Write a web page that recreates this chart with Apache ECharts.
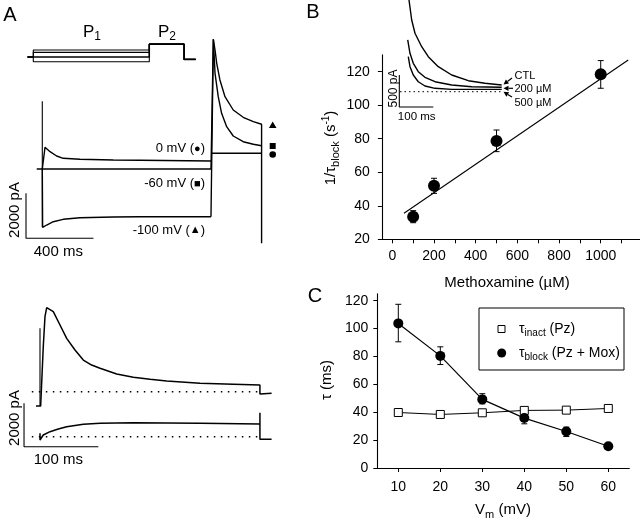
<!DOCTYPE html>
<html><head><meta charset="utf-8">
<script src="https://cdn.jsdelivr.net/npm/echarts@6/dist/echarts.min.js"></script>
<style>html,body{margin:0;padding:0;background:#fff}#c{width:640px;height:522px}</style>
</head><body><div id="c"></div>
<script>
// ---------- Panel A: voltage protocol (ms, mV) ----------
const protoTime = [-50, 0, 0, 1000, 1000, 1300, 1300, 1400];
const protoStep0 = [-60, -60, 0, 0, 50, 50, -80, -80];
const protoStep20 = [-60, -60, -20, -20, 50, 50, -80, -80];
const protoStep60 = [-60, -60, -60, -60, 50, 50, -80, -80];
const protoStep100 = [-60, -60, -100, -100, 50, 50, -80, -80];

// ---------- Panel A top: currents (ms, pA) ----------
const p1Trace0mV = [[0,0],[16,964],[46,769],[85,578],[124,476],[223,431],[421,400],[579,387],[1000,356]];
const p1TraceM60 = [[-33,0],[1000,0]];
const p1TraceM100 = [[0,0],[2,-2591],[26,-2489],[65,-2342],[124,-2236],[223,-2164],[421,-2133],[579,-2120],[1000,-2120]];
const onsetTransient = [[0,3009],[0,-2591]];
const p2AfterM100 = [[1000,-2120],[1014,5764],[1024,5289],[1034,4698],[1053,3956],[1083,3213],[1132,2622],[1191,2298],[1251,2102],[1300,1987],[1300,-3302]];
const p2AfterM60 = [[1000,0],[1014,5764],[1024,4253],[1043,3213],[1063,2476],[1093,1880],[1132,1467],[1191,1213],[1251,1098],[1300,1036]];
const p2After0 = [[1000,698],[1300,698]];
const scaleBarTop = [[-96.6,-1080],[-96.6,-3080],[303.4,-3080]];

// ---------- Panel A bottom: currents (ms, pA) ----------
const fastTrace = [[-5.4,-660],[0.9,-660],[4.4,2077],[6.7,3461],[9,3876],[17.9,3692],[26.9,3078],[35.9,2464],[47.1,1924],[58.3,1463],[69.5,1232],[80.8,1080],[103.2,817],[125.6,664],[148.1,572],[170.5,494],[215.3,388],[260.2,341],[296,309],[296,-106],[311.7,-74]];
const fastTransient = [[0,-660],[0,2926]];
const slowTrace = [[0,157],[0,-152],[0,-74],[4.4,78],[13.5,231],[24.6,355],[35.9,461],[58.3,572],[80.8,618],[125.6,646],[215.3,618],[296,586],[296,1108],[296,-120],[311.7,-120]];
const zeroLine = [[-11,0],[296,0]];
const scaleBarBottom = [[-21.5,1539],[-21.5,-461],[78.5,-461]];

// ---------- Panel B ----------
const mox = [100, 200, 500, 1000];
const invTau = [33.5, 52, 78.6, 118.4];
const invTauLow = [29.9, 47.4, 72.3, 110.1];
const invTauHigh = [37.1, 56.4, 85.2, 126.6];
const fitX = [56, 1132];
const fitY = [35.5, 127];
const bXLabels = [0, 200, 400, 600, 800, 1000];
const bXTicks = [0, 100, 200, 300, 400, 500, 600, 700, 800, 900, 1000, 1100];
const bYLabels = [20, 40, 60, 80, 100, 120];
// inset (ms, pA)
const insetCTL = [[5.9,1433],[13.8,1120],[23.5,913],[43.2,703],[62.6,547],[92,391],[131.5,261],[180.3,172],[229.4,131],[278.5,105]];
const inset200 = [[2.1,808],[8.8,600],[18.5,444],[33.2,313],[52.9,225],[82.4,156],[131.5,105],[190.3,78],[278.5,69]];
const inset500 = [[3.8,547],[8.8,391],[18.5,261],[33.2,156],[52.9,89],[82.4,53],[131.5,37],[278.5,37]];
const insetZero = [[-20.6,0],[278.5,0]];
const insetScaleBar = [[-22.6,261],[-22.6,-239],[77.4,-239]];

// ---------- Panel C ----------
const vm = [10, 20, 30, 40, 50, 60];
const tauInact = [39.8, 38.4, 39.6, 41.3, 41.5, 42.7];
const tauBlock = [103.7, 80.4, 49.2, 35.8, 26.2, 15.6];
const tauBlockLow = [90.5, 74.2, 46, 31.7, 22.6, 14.2];
const tauBlockHigh = [117.4, 86.9, 53.3, 38.9, 29.3, 17];
const cXLabels = [10, 20, 30, 40, 50, 60];
const cYLabels = [0, 20, 40, 60, 80, 100, 120];

const FONT = '"Liberation Sans", Arial, sans-serif';
const BLACK = '#000';

function zip(xs, ys) { return xs.map((x, i) => [x, ys[i]]); }
function zip3(xs, a, b) { return xs.map((x, i) => [x, a[i], b[i]]); }

function lineSeries(data, xi, yi, opts) {
  return Object.assign({
    type: 'line', data: data, xAxisIndex: xi, yAxisIndex: yi,
    symbol: 'none', showSymbol: false, clip: false, animation: false, silent: true,
    lineStyle: { color: BLACK, width: 1.4 }
  }, opts || {});
}

function errBars(cap) {
  return function (params, api) {
    const x = api.value(0), lo = api.value(1), hi = api.value(2);
    const a = api.coord([x, lo]), b = api.coord([x, hi]);
    const st = { stroke: BLACK, lineWidth: 1 };
    return { type: 'group', children: [
      { type: 'line', shape: { x1: a[0], y1: a[1], x2: b[0], y2: b[1] }, style: st },
      { type: 'line', shape: { x1: a[0] - cap, y1: a[1], x2: a[0] + cap, y2: a[1] }, style: st },
      { type: 'line', shape: { x1: b[0] - cap, y1: b[1], x2: b[0] + cap, y2: b[1] }, style: st }
    ]};
  };
}

function hiddenAxis(gi, min, max) {
  return { type: 'value', gridIndex: gi, min: min, max: max, show: false, splitLine: { show: false } };
}

const grids = [
  { left: 27.5, top: 43, width: 174, height: 19.9 },          // 0 protocol
  { left: 25.43, top: 34, width: 256.4, height: 213.75 },     // 1 A top
  { left: 17.71, top: 294.2, width: 260.05, height: 119.2 },  // 2 A bottom upper
  { left: 17.71, top: 393.36, width: 260.05, height: 65.0 },  // 3 A bottom lower
  { left: 381.9, top: 54.9, width: 260.5, height: 184.4 },    // 4 B
  { left: 396.8, top: -1.1, width: 112.2, height: 112 },      // 5 B inset
  { left: 377.3, top: 293.7, width: 252, height: 174.3 }      // 6 C
].map(g => Object.assign({ outerBoundsMode: 'none', containLabel: false, show: false }, g));

const plain = v => String(v);
const axisCommon = {
  axisLine: { show: true, onZero: false, lineStyle: { color: BLACK, width: 1.1 } },
  axisTick: { show: true, inside: false, length: 4, lineStyle: { color: BLACK, width: 1 } },
  splitLine: { show: false },
  axisLabel: { color: BLACK, fontSize: 14, fontFamily: FONT, formatter: plain }
};

const xAxes = [
  hiddenAxis(0, -50, 1450),
  hiddenAxis(1, -100, 1420),
  hiddenAxis(2, -30, 320),
  hiddenAxis(3, -30, 320),
  Object.assign({}, axisCommon, { type: 'value', gridIndex: 4, min: -50, max: 1200,
    axisTick: Object.assign({}, axisCommon.axisTick, { customValues: bXTicks }),
    axisLabel: Object.assign({}, axisCommon.axisLabel, { customValues: bXLabels, margin: 10 }) }),
  hiddenAxis(5, -30, 300),
  Object.assign({}, axisCommon, { type: 'value', gridIndex: 6, min: 5, max: 65,
    axisTick: Object.assign({}, axisCommon.axisTick, { customValues: cXLabels }),
    axisLabel: Object.assign({}, axisCommon.axisLabel, { customValues: cXLabels, margin: 12 }) })
];
const yAxes = [
  hiddenAxis(0, -110, 60),
  hiddenAxis(1, -3500, 6000),
  hiddenAxis(2, -1000, 4500),
  hiddenAxis(3, -1000, 2000),
  Object.assign({}, axisCommon, { type: 'value', gridIndex: 4, min: 20, max: 130,
    axisTick: Object.assign({}, axisCommon.axisTick, { customValues: bYLabels }),
    axisLabel: Object.assign({}, axisCommon.axisLabel, { customValues: bYLabels, margin: 12 }) }),
  hiddenAxis(5, -300, 1450),
  Object.assign({}, axisCommon, { type: 'value', gridIndex: 6, min: 0, max: 125,
    axisTick: Object.assign({}, axisCommon.axisTick, { customValues: cYLabels }),
    axisLabel: Object.assign({}, axisCommon.axisLabel, { customValues: cYLabels, margin: 9 }) })
];

const thin = { lineStyle: { color: BLACK, width: 1.1 } };
const dotted = { lineStyle: { color: BLACK, width: 1.4, type: [1.5, 5.5] } };

const series = [
  // protocol
  lineSeries(zip(protoTime, protoStep0), 0, 0, thin),
  lineSeries(zip(protoTime, protoStep20), 0, 0, thin),
  lineSeries(zip(protoTime, protoStep60), 0, 0, { lineStyle: { color: BLACK, width: 1.5 } }),
  lineSeries(zip(protoTime, protoStep100), 0, 0, thin),
  // A top
  lineSeries(p1TraceM60, 1, 1, { lineStyle: { color: BLACK, width: 1.7 } }),
  lineSeries(p1Trace0mV, 1, 1),
  lineSeries(p1TraceM100, 1, 1),
  lineSeries(onsetTransient, 1, 1, thin),
  lineSeries(p2AfterM100, 1, 1),
  lineSeries(p2AfterM60, 1, 1),
  lineSeries(p2After0, 1, 1),
  lineSeries(scaleBarTop, 1, 1, thin),
  // A bottom
  lineSeries(zeroLine, 2, 2, dotted),
  lineSeries(fastTrace, 2, 2, { lineStyle: { color: BLACK, width: 1.5 } }),
  lineSeries(fastTransient, 2, 2, thin),
  lineSeries(zeroLine, 3, 3, dotted),
  lineSeries(slowTrace, 3, 3, { lineStyle: { color: BLACK, width: 1.5 } }),
  lineSeries(scaleBarBottom, 3, 3, thin),
  // B
  lineSeries(zip(fitX, fitY), 4, 4, thin),
  { type: 'custom', xAxisIndex: 4, yAxisIndex: 4, data: zip3(mox, invTauLow, invTauHigh),
    renderItem: errBars(3), silent: true, animation: false, z: 2 },
  { type: 'scatter', xAxisIndex: 4, yAxisIndex: 4, data: zip(mox, invTau), symbol: 'circle', symbolSize: 12,
    itemStyle: { color: BLACK, opacity: 1 }, silent: true, animation: false, z: 3 },
  // B inset
  lineSeries(insetZero, 5, 5, { lineStyle: { color: BLACK, width: 1, type: [1.5, 3] } }),
  lineSeries(insetCTL, 5, 5),
  lineSeries(inset200, 5, 5),
  lineSeries(inset500, 5, 5),
  lineSeries(insetScaleBar, 5, 5, thin),
  // C
  { type: 'line', name: 'inact', xAxisIndex: 6, yAxisIndex: 6, data: zip(vm, tauInact), symbol: 'rect', symbolSize: 8,
    lineStyle: { color: BLACK, width: 1 }, itemStyle: { color: '#fff', borderColor: BLACK, borderWidth: 1, opacity: 1 },
    silent: true, animation: false, z: 3 },
  { type: 'custom', xAxisIndex: 6, yAxisIndex: 6, data: zip3(vm, tauBlockLow, tauBlockHigh),
    renderItem: errBars(3), silent: true, animation: false, z: 2 },
  { type: 'line', name: 'block', xAxisIndex: 6, yAxisIndex: 6, data: zip(vm, tauBlock), symbol: 'circle', symbolSize: 10,
    lineStyle: { color: BLACK, width: 1.2 }, itemStyle: { color: BLACK, opacity: 1 },
    silent: true, animation: false, z: 4 }
];

function T(x, y, text, size, opts) {
  const o = opts || {};
  return { type: 'text', x: x, y: y, rotation: o.rotation || 0, silent: true, z: 10,
    style: { text: text, fill: BLACK, fontSize: size, fontFamily: FONT, fontWeight: o.weight || 'normal',
      align: o.align || 'center', verticalAlign: o.va || 'middle', rich: o.rich } };
}
function sub(size, shift) { return { fontSize: size, fontFamily: FONT, fill: BLACK, padding: [shift, 0, 0, 0] }; }
function sup(size, shift) { return { fontSize: size, fontFamily: FONT, fill: BLACK, padding: [0, 0, shift, 0] }; }
function arrow(x1, y1, x2, y2) {
  const ang = Math.atan2(y2 - y1, x2 - x1), L = 5, W = 2.6;
  const bx = x2 - L * Math.cos(ang), by = y2 - L * Math.sin(ang);
  const px = -Math.sin(ang) * W, py = Math.cos(ang) * W;
  return [
    { type: 'line', silent: true, shape: { x1: x1, y1: y1, x2: bx, y2: by }, style: { stroke: BLACK, lineWidth: 1.2 } },
    { type: 'polygon', silent: true, shape: { points: [[x2, y2], [bx + px, by + py], [bx - px, by - py]] }, style: { fill: BLACK } }
  ];
}

const symRich = { s: { fontSize: 11, fontFamily: FONT, fill: BLACK } };
const graphics = [
  T(10, 15, 'A', 20), T(313, 12.5, 'B', 20), T(315, 296, 'C', 20),
  T(83, 32, 'P{s|1}', 17, { align: 'left', rich: { s: sub(12, 9) } }),
  T(158, 32, 'P{s|2}', 17, { align: 'left', rich: { s: sub(12, 9) } }),
  T(205, 148.5, '0 mV ({s|●})', 13, { align: 'right', rich: symRich }),
  T(205, 183.5, '-60 mV ({s|■})', 13, { align: 'right', rich: symRich }),
  T(205, 230, '-100 mV ({s|▲})', 13, { align: 'right', rich: symRich }),
  { type: 'polygon', silent: true, shape: { points: [[272.7, 121.5], [276.5, 128], [268.9, 128]] }, style: { fill: BLACK } },
  { type: 'rect', silent: true, shape: { x: 269.7, y: 143, width: 6, height: 6 }, style: { fill: BLACK } },
  { type: 'circle', silent: true, shape: { cx: 272.7, cy: 154.5, r: 3.3 }, style: { fill: BLACK } },
  T(15, 210, '2000 pA', 15, { rotation: Math.PI / 2 }),
  T(58.3, 252, '400 ms', 15),
  T(15, 418, '2000 pA', 15, { rotation: Math.PI / 2 }),
  T(58.3, 460, '100 ms', 15),
  // B titles
  T(331, 148, '1/τ{s|block} (s{p|-1})', 15, { rotation: Math.PI / 2, rich: { s: sub(11, 9), p: sup(10, 9) } }),
  T(507, 283, 'Methoxamine (µM)', 15),
  // B inset labels
  T(394, 88.5, '500 pA', 12, { rotation: Math.PI / 2 }),
  T(416.7, 117, '100 ms', 11.5),
  T(514.5, 76, 'CTL', 11, { align: 'left' }),
  T(514.5, 89.3, '200 µM', 11, { align: 'left' }),
  T(514.5, 103, '500 µM', 11, { align: 'left' }),
  ...arrow(512, 78, 503.5, 84.5),
  ...arrow(513, 88.3, 503.5, 88.3),
  ...arrow(512, 97, 503.5, 91.8),
  // C titles
  T(327, 380, 'τ (ms)', 15, { rotation: Math.PI / 2 }),
  T(503, 510, 'V{s|m} (mV)', 15, { rich: { s: sub(11, 9) } }),
  // C legend
  { type: 'rect', silent: true, shape: { x: 479, y: 308, width: 145, height: 62 }, style: { fill: 'none', stroke: BLACK, lineWidth: 1 } },
  { type: 'rect', silent: true, shape: { x: 498, y: 325.5, width: 7, height: 7 }, style: { fill: '#fff', stroke: BLACK, lineWidth: 1 } },
  { type: 'circle', silent: true, shape: { cx: 501.7, cy: 353, r: 4.5 }, style: { fill: BLACK } },
  T(519, 329, 'τ{s|inact} (Pz)', 14, { align: 'left', rich: { s: sub(10, 8) } }),
  T(519, 353, 'τ{s|block} (Pz + Mox)', 14, { align: 'left', rich: { s: sub(10, 8) } })
];

const chart = echarts.init(document.getElementById('c'), null, { renderer: 'canvas' });
chart.setOption({
  backgroundColor: '#fff',
  animation: false,
  textStyle: { fontFamily: FONT, color: BLACK },
  grid: grids,
  xAxis: xAxes,
  yAxis: yAxes,
  series: series,
  graphic: graphics
});
</script>
</body></html>
